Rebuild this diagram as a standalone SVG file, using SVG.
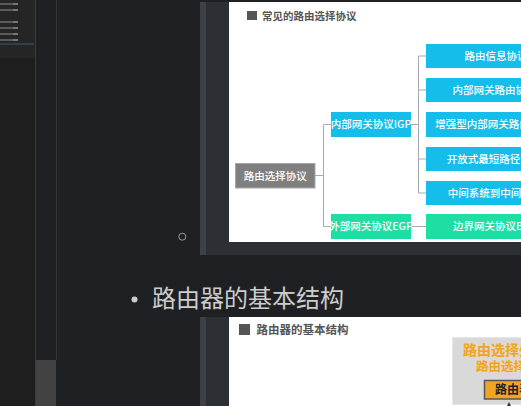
<svg xmlns="http://www.w3.org/2000/svg" width="521" height="406" viewBox="0 0 521 406">
<defs>
<style>
.cjk{font-family:"Noto Sans CJK SC","Noto Sans",sans-serif}
.bt{font-family:"Noto Sans CJK SC","Noto Sans",sans-serif;font-size:10.5px;font-weight:500;fill:#ffffff;text-anchor:middle}
.blue{fill:#14bdea}
.green{fill:#1fdea3}
.conn{stroke:#a9a9b0;stroke-width:1;fill:none}
.mm{fill:#5a5a5a}
</style>
</defs>
<!-- editor background -->
<rect x="0" y="0" width="521" height="406" fill="#1f2023"/>
<rect x="0" y="0" width="35" height="58" fill="#252526"/>
<rect x="0" y="58" width="35" height="348" fill="#1e1e1e"/>
<rect x="35" y="360" width="21" height="46" fill="#424242"/>
<line x1="35.5" y1="0" x2="35.5" y2="406" stroke="#3a3a3a"/>
<line x1="56.5" y1="0" x2="56.5" y2="360" stroke="#353535"/>
<!-- minimap lines -->
<g>
<rect class="mm" x="0" y="3" width="13" height="2"/><rect x="13" y="3" width="5" height="2" fill="#777"/>
<rect class="mm" x="0" y="9" width="13" height="2"/><rect x="13" y="9" width="5" height="2" fill="#777"/>
<rect class="mm" x="0" y="21" width="13" height="2"/><rect x="13" y="21" width="5" height="2" fill="#777"/>
<rect class="mm" x="0" y="27" width="13" height="2"/><rect x="13" y="27" width="5" height="2" fill="#777"/>
<rect class="mm" x="0" y="33" width="13" height="2"/><rect x="13" y="33" width="5" height="2" fill="#777"/>
<rect class="mm" x="0" y="39" width="13" height="2"/><rect x="13" y="39" width="5" height="2" fill="#777"/>
<rect x="0" y="43" width="34" height="2" fill="#2b3f55"/>
</g>
<!-- image frame 1 -->
<rect x="200" y="2" width="321" height="253" fill="#2c2f34"/>
<rect x="200" y="2" width="6" height="253" fill="#3d4145"/>
<rect x="229" y="2" width="292" height="240" fill="#ffffff"/>
<circle cx="182.3" cy="236.7" r="3.5" fill="none" stroke="#9a9a9a" stroke-width="1"/>
<!-- title 1 -->
<rect x="247" y="11" width="10" height="9" fill="#555555"/>
<text class="cjk" x="262" y="20" font-size="10.5" font-weight="bold" fill="#555555">常见的路由选择协议</text>
<!-- connectors -->
<g id="connectors">
<path class="conn" d="M315 175.5 H323.5 M323.5 124.5 V226.5 M323.5 124.5 H331 M323.5 226.5 H331"/>
<path class="conn" d="M411 124.5 H418.5 M418.5 56 V193 M418.5 56 H426 M418.5 90 H426 M418.5 159 H426 M418.5 193 H426"/>
<path class="conn" d="M411 226.5 H426"/>
</g>
<g id="root">
<rect x="235.5" y="163.5" width="79.5" height="24.5" fill="#7f7f7f" stroke="#a8a8a8" stroke-width="1"/>
<text class="bt" x="275.3" y="179.5">路由选择协议</text>
</g>
<g id="igp">
<rect class="blue" x="331" y="112" width="80" height="25"/>
<text class="bt" x="371" y="128.3">内部网关协议IGP</text>
</g>
<g id="egp">
<rect class="green" x="331" y="214" width="80" height="25"/>
<text class="bt" x="371" y="230.3">外部网关协议EGP</text>
</g>
<g id="rip">
<rect class="blue" x="426" y="44" width="140" height="24"/>
<text class="bt" x="496" y="59.8">路由信息协议</text>
</g>
<g id="igrp">
<rect class="blue" x="426" y="78" width="140" height="24"/>
<text class="bt" x="494.5" y="93.8">内部网关路由协议</text>
</g>
<g id="eigrp">
<rect class="blue" x="426" y="112" width="140" height="25"/>
<text class="bt" x="493" y="128.3">增强型内部网关路由协议</text>
</g>
<g id="ospf">
<rect class="blue" x="426" y="147" width="140" height="24"/>
<text class="bt" x="494" y="162.8">开放式最短路径优先</text>
</g>
<g id="isis">
<rect class="blue" x="426" y="181" width="140" height="24"/>
<text class="bt" x="495" y="196.8">中间系统到中间系统</text>
</g>
<g id="bgp">
<rect class="green" x="426" y="214" width="140" height="25"/>
<text class="bt" x="495" y="230.3">边界网关协议BGP</text>
</g>
<!-- bullet -->
<circle cx="134.5" cy="299.5" r="3" fill="#cccccc"/>
<text class="cjk" x="152" y="307" font-size="24" fill="#cccccc">路由器的基本结构</text>
<!-- image frame 2 -->
<rect x="200" y="317" width="321" height="89" fill="#2c2f34"/>
<rect x="200" y="317" width="6" height="89" fill="#3d4145"/>
<rect x="229" y="317" width="292" height="89" fill="#ffffff"/>
<rect x="239" y="324" width="11" height="11" fill="#555555"/>
<text class="cjk" x="256.5" y="334" font-size="11.5" font-weight="bold" fill="#555555">路由器的基本结构</text>
<rect x="452.5" y="337.5" width="70" height="67" fill="#d9d9d9" stroke="#e6e6e6"/>
<text class="cjk" x="463" y="354.5" font-size="14" font-weight="bold" fill="#f0a425" stroke="#f7d79a" stroke-width="0.6" paint-order="stroke">路由选择处理机</text>
<text class="cjk" x="476" y="371" font-size="12.5" font-weight="bold" fill="#f0a425" stroke="#f7d79a" stroke-width="0.6" paint-order="stroke">路由选择协议</text>
<rect x="484.5" y="380.5" width="40" height="18.5" fill="#f0a425" stroke="#555555" stroke-width="1.5"/>
<text class="cjk" x="495" y="394" font-size="12" font-weight="bold" fill="#222222">路由表</text>
<path d="M509 402 L507 406 L511 406 Z" fill="#333333"/>
</svg>
